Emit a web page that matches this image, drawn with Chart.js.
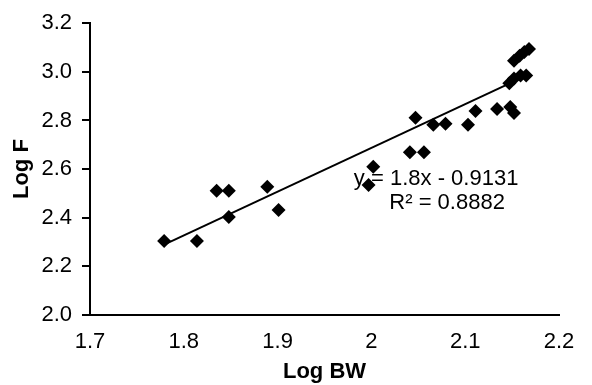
<!DOCTYPE html>
<html>
<head>
<meta charset="utf-8">
<script src="https://cdn.jsdelivr.net/npm/chart.js@4"></script>
<style>
  html, body { margin: 0; padding: 0; background: #fff; }
  #wrap { width: 592px; height: 385px; }
</style>
</head>
<body>
<div id="wrap"><canvas id="chart"></canvas></div>
<script>
// measured points: log body weight vs log F
const logBW = [1.779, 1.814, 1.835, 1.848, 1.848, 1.889, 1.901, 1.997, 2.002, 2.041,
               2.047, 2.056, 2.066, 2.079, 2.103, 2.111, 2.134, 2.148, 2.152, 2.147,
               2.152, 2.159, 2.165, 2.152, 2.158, 2.163, 2.168];
const logF  = [2.304, 2.304, 2.511, 2.511, 2.403, 2.527, 2.432, 2.535, 2.610, 2.669,
               2.811, 2.669, 2.782, 2.786, 2.782, 2.839, 2.847, 2.855, 2.831, 2.953,
               2.973, 2.985, 2.985, 3.046, 3.066, 3.082, 3.094];

// linear trendline as printed on the chart
const slope = 1.8;
const intercept = -0.9131;
const eqLabel = 'y = 1.8x - 0.9131';
const r2Label = 'R² = 0.8882';

const FONT = '"Liberation Sans", Arial, sans-serif';

const points = logBW.map((x, i) => ({ x: x, y: logF[i] }));
const xMin = Math.min(...logBW);
const xMax = Math.max(...logBW);
const trend = [xMin, xMax].map(x => ({ x: x, y: slope * x + intercept }));

// writes the trendline equation + R² onto the plot
const trendLabel = {
    id: 'trendLabel',
    afterDatasetsDraw(chart) {
        const { ctx, scales } = chart;
        const px = scales.x.getPixelForValue(2.069);
        const py = scales.y.getPixelForValue(2.56);
        ctx.save();
        ctx.fillStyle = '#000';
        ctx.font = '22px ' + FONT;
        ctx.textAlign = 'center';
        ctx.textBaseline = 'middle';
        ctx.fillText(eqLabel, px, py);
        ctx.fillText(r2Label, px + 11, py + 24);
        ctx.restore();
    }
};

const ctx = document.getElementById('chart').getContext('2d');

new Chart(ctx, {
    type: 'scatter',
    data: {
        datasets: [
            {
                label: 'Log F',
                data: points,
                pointStyle: 'rectRot',
                pointRadius: 7,
                pointHoverRadius: 7,
                backgroundColor: '#000',
                borderColor: '#000',
                borderWidth: 0
            },
            {
                type: 'line',
                label: 'Linear',
                data: trend,
                borderColor: '#000',
                borderWidth: 2,
                pointRadius: 0,
                fill: false,
                tension: 0
            }
        ]
    },
    options: {
        responsive: true,
        maintainAspectRatio: false,
        animation: false,
        layout: {
            padding: { top: 19, right: 33, left: 0, bottom: 0 }
        },
        plugins: {
            legend: { display: false },
            tooltip: { enabled: false }
        },
        scales: {
            x: {
                type: 'linear',
                min: 1.7,
                max: 2.2,
                afterFit: (scale) => { scale.height = 70; },
                ticks: {
                    stepSize: 0.1,
                    padding: 14,
                    color: '#000',
                    font: { family: FONT, size: 22 },
                    callback: (v) => String(Number(v.toFixed(1)))
                },
                grid: { drawOnChartArea: false, drawTicks: false },
                border: { display: true, color: '#000', width: 2 },
                title: {
                    display: true,
                    text: 'Log BW',
                    color: '#000',
                    font: { family: FONT, size: 22, weight: 'bold' },
                    padding: { top: 0, bottom: 0 }
                }
            },
            y: {
                min: 2.0,
                max: 3.2,
                afterFit: (scale) => { scale.width = 90; },
                ticks: {
                    stepSize: 0.2,
                    padding: 10,
                    color: '#000',
                    font: { family: FONT, size: 22 },
                    callback: (v) => v.toFixed(1)
                },
                grid: { drawOnChartArea: false, drawTicks: true, tickLength: 8, color: '#000', lineWidth: 2 },
                border: { display: true, color: '#000', width: 2 },
                title: {
                    display: true,
                    text: 'Log F',
                    color: '#000',
                    font: { family: FONT, size: 22, weight: 'bold' },
                    padding: { top: 9, bottom: 0 }
                }
            }
        }
    },
    plugins: [trendLabel]
});
</script>
</body>
</html>
